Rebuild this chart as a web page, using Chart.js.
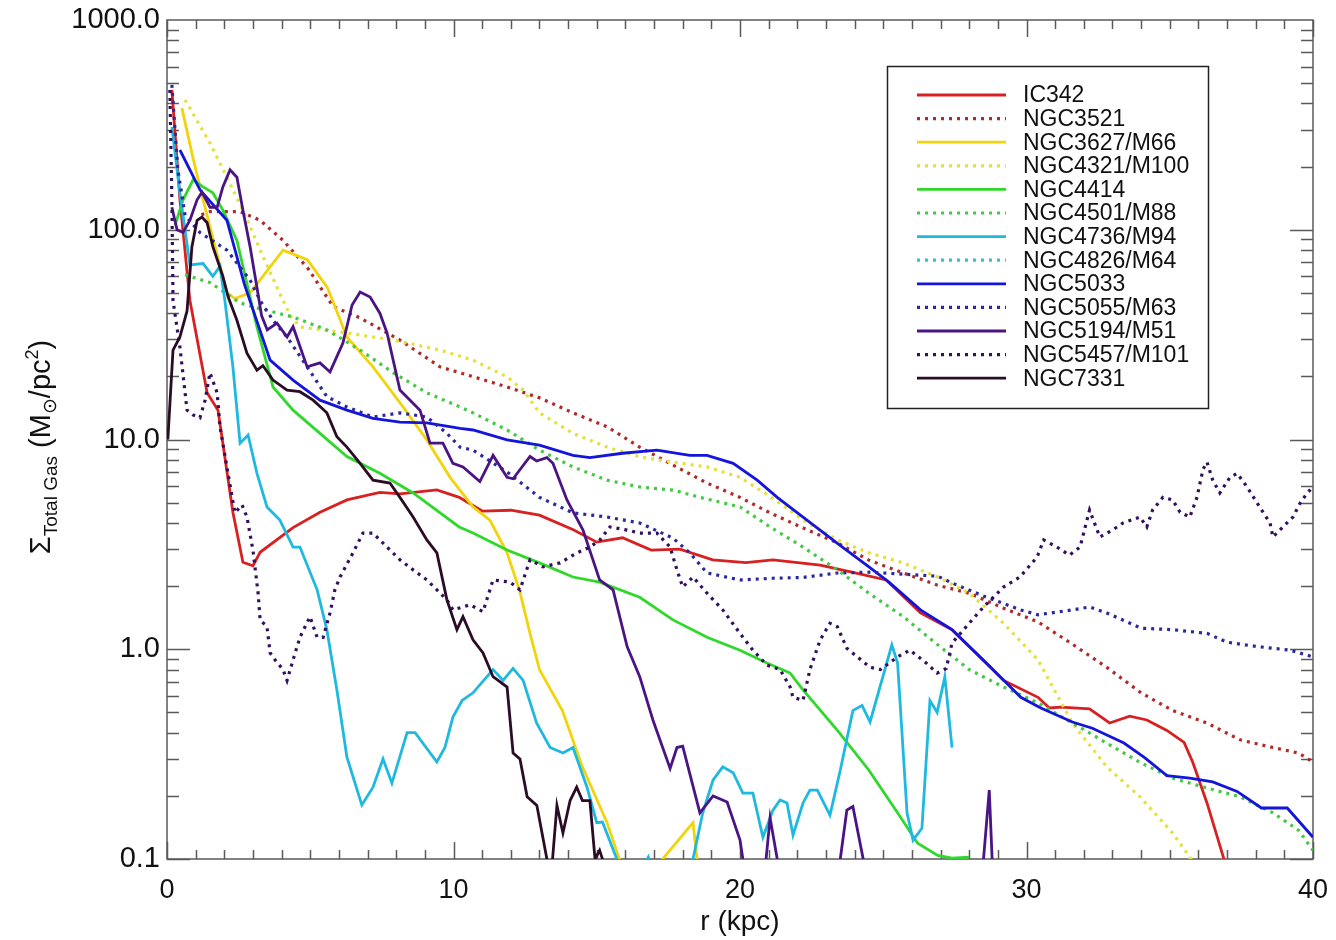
<!DOCTYPE html>
<html>
<head>
<meta charset="utf-8">
<script src="https://cdn.jsdelivr.net/npm/chart.js@4.4.1/dist/chart.umd.min.js"></script>
<style>
  body { margin: 0; background: #fff; }
  canvas { display: block; }
</style>
</head>
<body>
<canvas id="gasChart" width="1336" height="940"></canvas>
<script>
// radial profiles: [r (kpc), Sigma total gas (Msun/pc^2)]
const ic342 = [[0.17,464],[0.45,140],[0.8,46],[1.4,16.7],[1.78,13.8],[2.3,4.5],[2.65,2.6],[3.0,2.5],[3.25,2.9],[4.4,3.8],[5.34,4.5],[6.28,5.15],[7.43,5.6],[8.13,5.5],[9.42,5.75],[10.2,5.3],[11.0,4.56],[12.0,4.6],[13.0,4.36],[14.2,3.7],[15.0,3.24],[15.9,3.4],[16.9,2.97],[17.9,3.0],[19.05,2.67],[20.2,2.59],[21.15,2.67],[22.8,2.52],[23.9,2.33],[25.1,2.14],[26.3,1.49],[27.4,1.24],[29.2,0.71],[30.4,0.59],[30.8,0.525],[31.2,0.53],[32.2,0.52],[32.9,0.445],[33.6,0.48],[34.2,0.46],[34.9,0.41],[35.5,0.36],[35.8,0.29],[36.3,0.185],[36.8,0.11],[37.1,0.08]];
const ngc3521 = [[1.2,118],[1.5,122],[2.55,122],[3.25,111],[4.05,89],[4.9,66],[5.8,43],[6.74,38],[8.13,29.8],[9.53,22.2],[10.7,19.9],[11.87,17.8],[13.0,15.8],[14.17,13.4],[15.36,11.5],[16.5,9.2],[17.66,7.55],[18.85,6.2],[20.0,5.3],[21.05,4.47],[22.2,3.79],[23.4,3.21],[24.5,2.66],[25.7,2.31],[26.9,2.02],[28.0,1.85],[29.2,1.57],[30.4,1.35],[31.5,1.08],[32.8,0.82],[34.0,0.62],[35.1,0.51],[36.3,0.445],[37.45,0.37],[38.6,0.34],[39.5,0.32],[40,0.29]];
const ngc3627 = [[0.52,380],[0.9,222],[1.26,139],[1.68,83],[2.1,50],[2.37,47],[2.9,50],[4.05,80],[4.9,72],[5.6,53],[6.28,30.8],[7.19,22.2],[8.24,14.3],[9.07,9.95],[9.88,6.6],[10.68,4.77],[11.27,4.13],[11.87,2.88],[12.3,1.92],[12.67,1.19],[13.0,0.80],[13.8,0.51],[14.5,0.275],[15.36,0.149],[15.8,0.099],[16.2,0.07],[17.0,0.07],[17.3,0.1],[18.36,0.149],[18.5,0.1],[18.8,0.07]];
const ngc4321 = [[0.63,416],[1.5,259],[2.09,178],[2.65,124],[3.25,80],[3.84,53],[4.3,39],[4.64,34.4],[6.28,32.2],[7.9,29.8],[9.53,26.7],[10.68,23.9],[11.87,19.9],[12.43,17.2],[13.0,13.4],[14.17,10.7],[15.36,9.2],[16.5,8.26],[17.66,7.8],[18.85,7.4],[20.0,6.6],[21.1,5.3],[22.2,4.13],[23.4,3.32],[24.5,2.88],[25.7,2.58],[26.9,2.21],[28.0,1.85],[29.2,1.33],[30.4,0.89],[31.6,0.445],[32.8,0.275],[33.96,0.198],[35.1,0.133],[35.7,0.102],[36.05,0.085]];
const ngc4414 = [[0.28,105],[0.56,139],[0.91,173],[1.26,160],[1.6,150],[1.95,124],[2.44,89],[3.14,34.4],[3.7,17.8],[4.4,13.8],[5.34,10.7],[6.28,8.3],[7.43,6.9],[8.59,5.56],[10.2,3.83],[10.68,3.58],[11.87,2.97],[13.0,2.58],[14.17,2.21],[15.1,2.09],[16.5,1.77],[17.66,1.38],[18.85,1.14],[20.0,0.99],[20.94,0.86],[21.75,0.77],[22.2,0.64],[23.4,0.41],[24.5,0.265],[25.5,0.166],[26.2,0.119],[26.9,0.104],[27.4,0.101],[28.0,0.102]];
const ngc4501 = [[0.63,61],[1.5,56],[2.55,44.8],[3.0,42.9],[4.4,38.4],[5.58,33.3],[6.74,26.7],[7.9,20.8],[9.07,16.7],[10.23,14.3],[10.68,13.4],[11.87,11.1],[13.0,8.9],[14.17,7.4],[15.36,6.4],[16.5,5.94],[17.66,5.74],[18.6,5.3],[20.0,4.77],[21.05,3.83],[22.2,3.07],[23.4,2.39],[24.5,1.85],[25.7,1.43],[26.9,1.05],[28.0,0.80],[29.2,0.66],[30.4,0.555],[31.6,0.445],[32.8,0.357],[34.0,0.287],[35.1,0.243],[36.3,0.218],[37.45,0.198],[38.6,0.166],[39.5,0.137],[40,0.11]];
const ngc4736 = [[0.17,309],[0.45,150],[0.8,68],[1.26,69],[1.6,60],[1.85,67],[2.02,46],[2.3,22.2],[2.55,9.6],[2.83,10.5],[3.14,6.9],[3.49,4.77],[3.94,4.13],[4.4,3.07],[4.64,3.07],[5.24,1.92],[5.58,1.24],[5.93,0.64],[6.28,0.306],[6.8,0.181],[7.19,0.22],[7.54,0.30],[7.85,0.23],[8.38,0.40],[8.66,0.40],[9.42,0.29],[9.7,0.34],[9.98,0.475],[10.3,0.57],[10.68,0.62],[11.38,0.80],[11.73,0.71],[12.08,0.81],[12.43,0.71],[12.9,0.445],[13.37,0.34],[13.82,0.32],[14.17,0.34],[14.66,0.22],[15.0,0.149],[15.2,0.15],[15.7,0.1],[16.2,0.07],[16.8,0.102],[17.2,0.07],[18.0,0.07],[18.36,0.1],[18.7,0.166],[19.06,0.238],[19.4,0.275],[19.76,0.258],[20.1,0.206],[20.45,0.206],[20.8,0.127],[21.15,0.171],[21.4,0.191],[21.64,0.185],[21.85,0.13],[22.2,0.185],[22.44,0.213],[22.7,0.213],[23.14,0.162],[23.5,0.265],[23.94,0.51],[24.26,0.54],[24.54,0.45],[25.3,1.05],[25.5,0.86],[25.83,0.166],[26.04,0.123],[26.35,0.14],[26.63,0.57],[26.88,0.50],[27.15,0.74],[27.4,0.34]];
const ngc4826 = [];
const ngc5033 = [[0.45,240],[1.15,155],[2.09,111],[2.7,55],[3.6,23.9],[4.4,19.2],[5.34,15.4],[6.28,13.8],[7.19,12.6],[8.13,12.1],[9.07,12.0],[10.23,11.3],[10.68,11.1],[11.87,9.95],[13.0,9.4],[14.17,8.4],[14.76,8.2],[15.9,8.6],[17.1,8.9],[18.25,8.4],[18.85,8.4],[19.76,7.7],[20.6,6.4],[21.3,5.3],[22.2,4.27],[23.4,3.2],[24.5,2.47],[25.2,2.09],[26.3,1.54],[27.4,1.24],[28.6,0.86],[29.8,0.59],[30.5,0.525],[31.6,0.45],[32.3,0.42],[33.4,0.357],[34.1,0.306],[34.9,0.25],[35.7,0.243],[36.5,0.233],[37.35,0.21],[38.2,0.175],[39.1,0.175],[40,0.127]];
const ngc5055 = [[0.17,490],[0.38,193],[0.63,117],[1.15,97],[2.09,80],[2.9,57.5],[3.25,46],[3.7,37],[4.19,30.8],[4.89,22.2],[5.58,16],[6.28,14.3],[7.19,12.8],[8.13,13.4],[9.07,12.8],[9.77,10.7],[10.23,9.2],[10.68,8.9],[11.87,7.0],[13.0,5.3],[14.17,4.47],[15.36,4.27],[16.5,4.0],[17.66,3.39],[18.25,2.88],[18.85,2.31],[20.0,2.14],[21.15,2.18],[22.2,2.2],[23.4,2.31],[24.5,2.33],[25.7,2.28],[26.9,2.23],[27.4,2.07],[28.6,1.77],[29.8,1.54],[30.4,1.46],[31.6,1.54],[32.2,1.59],[32.8,1.49],[34.0,1.26],[35.1,1.24],[36.3,1.19],[37.0,1.08],[38.05,1.03],[39.2,0.99],[40,0.92]];
const ngc5194 = [[0.17,128],[0.35,100],[0.56,97],[0.8,111],[1.05,139],[1.22,151],[1.5,128],[1.75,128],[1.95,160],[2.2,193],[2.44,178],[2.65,124],[2.9,83],[3.14,53],[3.3,39],[3.5,33.3],[3.84,35.9],[4.19,30.8],[4.4,34.5],[4.89,22.2],[5.34,23.2],[5.69,21],[6.14,28.8],[6.46,43.8],[6.74,50.5],[7.09,47.8],[7.43,40],[7.68,32.2],[8.13,17.2],[8.83,13.8],[9.18,9.6],[9.63,9.6],[9.98,7.7],[10.33,7.4],[10.92,6.3],[11.38,8.4],[11.87,6.6],[12.08,6.5],[12.67,8.3],[12.9,7.9],[13.26,8.2],[13.47,7.7],[13.96,5.15],[14.52,3.7],[15.1,2.14],[15.57,1.92],[16.06,1.03],[16.5,0.74],[16.96,0.46],[17.56,0.27],[17.8,0.34],[18.0,0.345],[18.6,0.166],[19.06,0.20],[19.55,0.187],[20.0,0.123],[20.1,0.1],[20.35,0.07],[20.8,0.07],[21.05,0.157],[21.3,0.1],[21.6,0.07],[23.2,0.07],[23.5,0.1],[23.73,0.171],[23.94,0.178],[24.3,0.1],[24.6,0.07],[28.3,0.07],[28.5,0.1],[28.7,0.213],[28.8,0.1],[29.0,0.07]];
const ngc5457 = [[0.1,464],[0.17,139],[0.21,46],[0.45,27.6],[0.7,13.8],[0.91,13.1],[1.15,12.7],[1.33,15.4],[1.5,20.8],[1.75,16.7],[1.85,11.5],[2.09,7.4],[2.37,4.47],[2.62,4.88],[2.79,4.27],[3.0,2.97],[3.18,1.85],[3.25,1.38],[3.49,1.28],[3.6,0.96],[3.77,0.89],[4.05,0.80],[4.19,0.71],[4.4,0.89],[4.64,1.14],[4.99,1.43],[5.24,1.14],[5.45,1.14],[5.69,1.49],[5.86,1.92],[6.04,2.21],[6.49,2.88],[6.84,3.58],[7.19,3.58],[7.68,3.07],[8.13,2.67],[8.59,2.39],[9.07,2.14],[9.42,1.92],[9.77,1.72],[9.98,1.54],[10.58,1.63],[11.03,1.51],[11.38,2.14],[11.97,2.09],[12.32,1.92],[12.67,2.67],[13.12,2.47],[13.72,2.58],[14.31,2.88],[14.76,3.07],[15.11,3.32],[15.46,3.83],[16.06,3.7],[16.5,3.58],[17.1,3.58],[17.56,3.07],[17.8,2.39],[18.0,1.98],[18.36,2.21],[18.85,1.85],[19.4,1.54],[20.0,1.19],[20.45,0.99],[20.94,0.84],[21.4,0.80],[21.75,0.66],[21.85,0.59],[22.2,0.57],[22.44,0.80],[22.8,1.11],[23.14,1.33],[23.4,1.28],[23.73,1.01],[24.54,0.82],[24.9,0.80],[25.5,0.92],[25.93,0.99],[26.5,0.86],[26.88,0.77],[27.2,0.81],[27.4,1.07],[28.0,1.33],[28.5,1.59],[29.2,1.98],[29.77,2.21],[30.37,2.75],[30.6,3.32],[31.06,3.07],[31.5,2.81],[31.87,3.07],[32.2,4.61],[32.56,3.43],[33.0,3.7],[33.37,4.0],[33.96,4.27],[34.2,3.83],[34.4,4.61],[34.76,5.3],[35.1,5.15],[35.36,4.5],[35.7,4.27],[35.95,5.3],[36.16,7.2],[36.3,7.8],[36.5,6.4],[36.75,5.56],[37.1,6.6],[37.35,6.9],[37.7,5.94],[38.05,4.98],[38.5,4.0],[38.6,3.43],[38.95,3.83],[39.3,4.27],[39.55,4.98],[39.8,5.56],[40,5.94]];
const ngc7331 = [[0.03,10],[0.21,26.7],[0.45,30.8],[0.7,41],[0.87,83],[1.05,111],[1.22,115],[1.4,108],[1.6,83],[1.95,60],[2.13,48],[2.44,37],[2.79,25.8],[3.14,21.4],[3.35,22.5],[3.7,19.2],[4.19,17.2],[4.64,16.9],[5.1,15.4],[5.58,13.4],[5.93,10.3],[6.28,9.2],[6.74,7.7],[7.19,6.4],[7.78,6.2],[8.13,5.3],[8.59,4.27],[9.07,3.32],[9.42,2.88],[9.77,1.72],[10.12,1.24],[10.33,1.43],[10.68,1.11],[11.03,0.96],[11.38,0.74],[11.87,0.66],[12.08,0.32],[12.32,0.30],[12.57,0.198],[12.91,0.18],[13.26,0.1],[13.4,0.08],[13.61,0.18],[13.82,0.133],[14.07,0.19],[14.3,0.22],[14.5,0.19],[14.76,0.19],[14.94,0.1],[15.1,0.11],[15.2,0.1],[15.4,0.07]];

const galaxyNames = ['IC342','NGC3521','NGC3627/M66','NGC4321/M100','NGC4414','NGC4501/M88','NGC4736/M94','NGC4826/M64','NGC5033','NGC5055/M63','NGC5194/M51','NGC5457/M101','NGC7331'];
const galaxyProfiles = [ic342, ngc3521, ngc3627, ngc4321, ngc4414, ngc4501, ngc4736, ngc4826, ngc5033, ngc5055, ngc5194, ngc5457, ngc7331];
const lineColors = ['#d92020','#b02a2a','#f2d40c','#e6e03a','#2fd82a','#45c845','#1fb9e0','#3cc0cc','#1414dc','#2a2a9c','#4a1485','#33105e','#2a0c26'];
const dotted = [false,true,false,true,false,true,false,true,false,true,false,true,false];
const yTickValues = [0.1, 1, 10, 100, 1000];
const xTickStep = 10;

const FONT = "'Liberation Sans', Arial, Helvetica, sans-serif";

const datasets = galaxyNames.map((name, i) => ({
  label: name,
  data: galaxyProfiles[i].map(p => ({ x: p[0], y: p[1] })),
  borderColor: lineColors[i],
  borderWidth: dotted[i] ? 3.2 : 2.8,
  borderDash: dotted[i] ? [3, 5] : [],
  pointRadius: 0,
  tension: 0,
  fill: false,
  order: galaxyNames.length - i
}));

// box round the plot with IDL style ticks on all four sides
const frameTicks = {
  id: 'frameTicks',
  beforeDatasetsDraw(chart) {
    const { ctx, chartArea: a, scales: { x, y } } = chart;
    ctx.save();
    ctx.strokeStyle = '#5a5a5a';
    ctx.lineWidth = 1.5;
    ctx.strokeRect(a.left, a.top, a.right - a.left, a.bottom - a.top);
    ctx.beginPath();
    for (let r = x.min; r <= x.max; r++) {
      const px = Math.round(x.getPixelForValue(r)) + 0.5;
      const len = r % xTickStep === 0 ? 17 : 9;
      ctx.moveTo(px, a.bottom); ctx.lineTo(px, a.bottom - len);
      ctx.moveTo(px, a.top); ctx.lineTo(px, a.top + len);
    }
    for (let d = 0.1; d < 1000; d *= 10) {
      for (let m = 1; m <= 9; m++) {
        const py = Math.round(y.getPixelForValue(d * m)) + 0.5;
        const len = m === 1 ? 23 : 12;
        ctx.moveTo(a.left, py); ctx.lineTo(a.left + len, py);
        ctx.moveTo(a.right, py); ctx.lineTo(a.right - len, py);
      }
    }
    ctx.stroke();
    ctx.restore();
  }
};

// y title with sub- and superscripts
const yTitle = {
  id: 'yTitle',
  afterDraw(chart) {
    const ctx = chart.ctx;
    const parts = [
      { t: 'Σ', size: 29, dy: 0 },
      { t: 'Total Gas', size: 19, dy: 7 },
      { t: ' (M', size: 29, dy: 0 },
      { t: '⊙', size: 19, dy: 6 },
      { t: '/pc', size: 29, dy: 0 },
      { t: '2', size: 18, dy: -12 },
      { t: ')', size: 29, dy: 0 }
    ];
    ctx.save();
    ctx.translate(40, 447);
    ctx.rotate(-Math.PI / 2);
    ctx.fillStyle = '#111';
    ctx.textBaseline = 'alphabetic';
    let total = 0;
    parts.forEach(p => { ctx.font = p.size + 'px ' + FONT; p.w = ctx.measureText(p.t).width; total += p.w; });
    let cx = -total / 2;
    parts.forEach(p => {
      ctx.font = p.size + 'px ' + FONT;
      ctx.fillText(p.t, cx, 10 + p.dy);
      cx += p.w;
    });
    ctx.restore();
  }
};

// legend box in the upper right
const legendBox = {
  id: 'legendBox',
  afterDraw(chart) {
    const ctx = chart.ctx;
    ctx.save();
    ctx.fillStyle = '#fff';
    ctx.fillRect(887, 66, 321, 342);
    ctx.strokeStyle = '#222';
    ctx.lineWidth = 1.5;
    ctx.strokeRect(887.5, 66.5, 321, 342);
    chart.data.datasets.forEach((ds, i) => {
      const yy = 95 + i * 23.6;
      ctx.strokeStyle = ds.borderColor;
      ctx.lineWidth = ds.borderWidth;
      ctx.setLineDash(ds.borderDash);
      ctx.beginPath();
      ctx.moveTo(917, yy);
      ctx.lineTo(1006, yy);
      ctx.stroke();
      ctx.setLineDash([]);
      ctx.fillStyle = '#111';
      ctx.font = '23px ' + FONT;
      ctx.textBaseline = 'middle';
      ctx.fillText(ds.label, 1023, yy + 1);
    });
    ctx.restore();
  }
};

new Chart(document.getElementById('gasChart').getContext('2d'), {
  type: 'line',
  data: { datasets: datasets },
  options: {
    responsive: false,
    animation: false,
    layout: { padding: { top: 20, right: 23, left: 0, bottom: 0 } },
    plugins: {
      legend: { display: false },
      tooltip: { enabled: false }
    },
    scales: {
      x: {
        type: 'linear',
        min: 0,
        max: 40,
        grid: { display: false, drawTicks: false },
        border: { display: false },
        ticks: {
          stepSize: xTickStep,
          color: '#111',
          padding: 15,
          font: { size: 27, family: FONT }
        },
        title: {
          display: true,
          text: 'r (kpc)',
          color: '#111',
          padding: { top: 0, bottom: 1 },
          font: { size: 28, family: FONT }
        },
        afterFit: s => { s.height = 81; s.paddingLeft = 0; s.paddingRight = 0; }
      },
      y: {
        type: 'logarithmic',
        min: 0.1,
        max: 1000,
        grid: { display: false, drawTicks: false },
        border: { display: false },
        afterBuildTicks: s => { s.ticks = yTickValues.map(v => ({ value: v })); },
        ticks: {
          color: '#111',
          padding: 7,
          autoSkip: false,
          font: { size: 29, family: FONT },
          callback: v => Number(v).toFixed(1)
        },
        afterFit: s => { s.width = 167; s.paddingTop = 0; s.paddingBottom = 0; }
      }
    }
  },
  plugins: [frameTicks, yTitle, legendBox]
});
</script>
</body>
</html>
